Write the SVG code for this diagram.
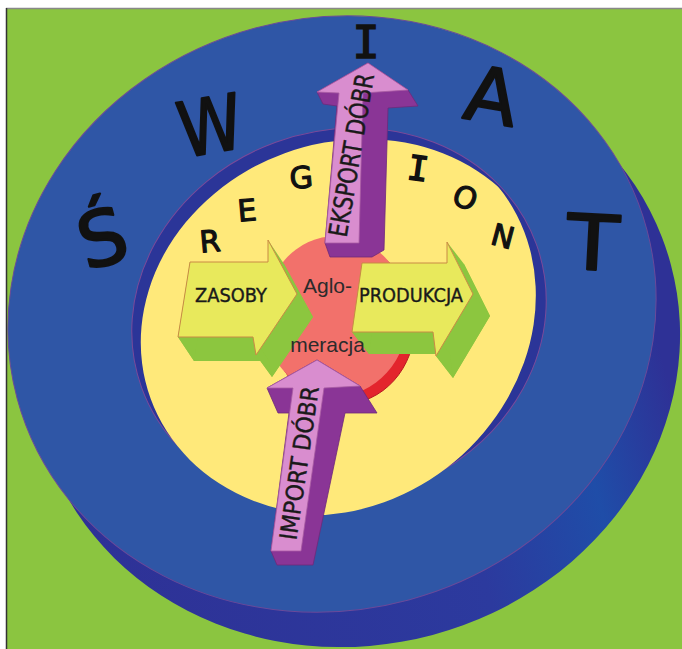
<svg xmlns="http://www.w3.org/2000/svg" width="682" height="649" viewBox="0 0 682 649">
<defs>
<style>
.big{font-family:"DejaVu Sans",sans-serif;font-size:76px;fill:#111;stroke:#111;stroke-width:2.2;stroke-linejoin:round;text-anchor:middle}
.mono{font-family:"DejaVu Sans Mono",monospace;fill:#111;stroke:#111;stroke-width:1.6;text-anchor:middle}
.reg{font-family:"DejaVu Sans",sans-serif;font-size:30px;fill:#111;stroke:#111;stroke-width:1.2;stroke-linejoin:round;text-anchor:middle}
.lab{font-family:"DejaVu Sans",sans-serif;fill:#1a1a1a;stroke:#1a1a1a;stroke-width:0.4;text-anchor:middle}
.agl{font-family:"Liberation Sans",Arial,sans-serif;font-size:21px;fill:#2b2b2b;text-anchor:middle}
.face{fill:#e8e95c;stroke:#c98a45;stroke-width:1}
.side{fill:#8cc63f}
.pink{fill:#d98dcf;stroke:#a85ca2;stroke-width:0.8}
.purp{fill:#8a3596;stroke:#6e2a7a;stroke-width:0.8}
</style>
<linearGradient id="ext" x1="0" y1="0" x2="1" y2="0">
<stop offset="0" stop-color="#2e3196"/>
<stop offset="0.6" stop-color="#2c3a9e"/>
<stop offset="0.8" stop-color="#1f4da8"/>
<stop offset="0.95" stop-color="#2e3196"/>
</linearGradient>
<clipPath id="holeClip"><ellipse cx="339" cy="316" rx="210" ry="185" transform="rotate(-20 339 316)"/></clipPath>
</defs>

<g id="frame">
<rect x="0" y="0" width="682" height="649" fill="#ffffff"/>
<rect x="7" y="9" width="675" height="640" fill="#8bc540"/>
<line x1="6" y1="8.5" x2="682" y2="8.5" stroke="#888" stroke-width="1.5"/>
<line x1="6.5" y1="8" x2="6.5" y2="649" stroke="#333" stroke-width="1.5"/>
</g>

<g id="world-disc">
<ellipse cx="356" cy="349" rx="326" ry="296" transform="rotate(-15 356 349)" fill="url(#ext)"/>
<ellipse cx="332" cy="314" rx="326" ry="296" transform="rotate(-15 332 314)" fill="#2f56a6" stroke="#6a4a9a" stroke-width="1"/>
</g>

<g id="region-disc">
<ellipse cx="339" cy="316" rx="210" ry="185" transform="rotate(-20 339 316)" fill="#2b3598" stroke="#7a4a9a" stroke-width="1"/>
<ellipse cx="348" cy="327" rx="210" ry="185" transform="rotate(-20 348 327)" fill="#ffe97a" clip-path="url(#holeClip)"/>
</g>

<g id="swiat-letters">
<text class="big" x="102" y="265" transform="rotate(-15 102 237)">Ś</text>
<text class="big" x="210" y="152.7" textLength="64" lengthAdjust="spacingAndGlyphs" transform="rotate(-10 210 125)">W</text>
<text class="mono" font-size="45" x="366" y="58.4">I</text>
<text class="big" x="492" y="122.7" transform="rotate(10 492 95)">A</text>
<text class="big" x="593" y="269.7" textLength="52" lengthAdjust="spacingAndGlyphs" transform="rotate(3 593 242)">T</text>
</g>

<g id="region-letters">
<text class="reg" x="210" y="252" transform="rotate(-5 210 241)">R</text>
<text class="reg" x="247" y="221" transform="rotate(-5 247 210)">E</text>
<text class="reg" x="301" y="188" transform="rotate(-5 301 177)">G</text>
<text class="mono" font-size="34" x="418" y="180.4" transform="rotate(8 418 168)">I</text>
<text class="reg" font-size="34" x="466" y="208.4" transform="rotate(25 466 196)">O</text>
<text class="reg" x="503" y="247" transform="rotate(15 503 236)">N</text>
</g>

<g id="aglomeracja">
<ellipse cx="343" cy="324" rx="72" ry="80" fill="#e3252d" stroke="#b81a22" stroke-width="1"/>
<ellipse cx="336" cy="316" rx="72" ry="80" fill="#f2716b"/>
</g>

<g id="zasoby">
<g class="side">
<polygon points="206,286 284,286 284,264 313,317 272,377 269,361 194,361"/>
<polygon points="268,240 297,294 313,317 284,264"/>
<polygon points="297,294 256,355 272,377 313,317"/>
<polygon points="256,355 253,337 269,361 272,377"/>
<polygon points="253,337 178,337 194,361 269,361"/>
<polygon points="178,337 190,262 206,286 194,361"/>
</g>
<polygon class="face" points="190,262 268,262 268,240 297,294 256,355 253,337 178,337"/>
<text class="lab" font-size="19" x="231" y="302" textLength="72" lengthAdjust="spacingAndGlyphs">ZASOBY</text>
</g>

<g id="produkcja">
<g class="side">
<polygon points="379,285 464,285 464,264 490,316 453,378 450,354 369,354"/>
<polygon points="447,242 473,294 490,316 464,264"/>
<polygon points="473,294 436,356 453,378 490,316"/>
<polygon points="436,356 433,332 450,354 453,378"/>
<polygon points="433,332 352,332 369,354 450,354"/>
<polygon points="352,332 362,263 379,285 369,354"/>
</g>
<polygon class="face" points="362,263 447,263 447,242 473,294 436,356 433,332 352,332"/>
<text class="lab" font-size="19" x="411" y="302" textLength="104" lengthAdjust="spacingAndGlyphs">PRODUKCJA</text>
</g>

<g id="eksport">
<polygon class="purp" points="368,63 408,90 418,106 388,108 384,250 372,257 330,257 325,243 337,106 323,104 317,92"/>
<polygon class="pink" points="368,63 408,90 363,93 359,243 325,243 339,93 317,92"/>
<text class="lab" font-size="26" x="0" y="9.5" textLength="165" lengthAdjust="spacingAndGlyphs" transform="translate(351,155) rotate(-80.4)">EKSPORT DÓBR</text>
</g>

<g id="import">
<polygon class="purp" points="317,360 360,386 377,413 345,413 313,565 277,565 271,551 289,413 278,413 267,388"/>
<polygon class="pink" points="317,360 360,386 324,388 301,551 271,551 293,388 267,388"/>
<text class="lab" font-size="24" x="0" y="8.7" textLength="155" lengthAdjust="spacingAndGlyphs" transform="translate(299,463) rotate(-81.6)">IMPORT DÓBR</text>
</g>

<g id="aglomeracja-label">
<text class="agl" x="327.5" y="293">Aglo-</text>
<text class="agl" x="327.5" y="352">meracja</text>
</g>
</svg>
